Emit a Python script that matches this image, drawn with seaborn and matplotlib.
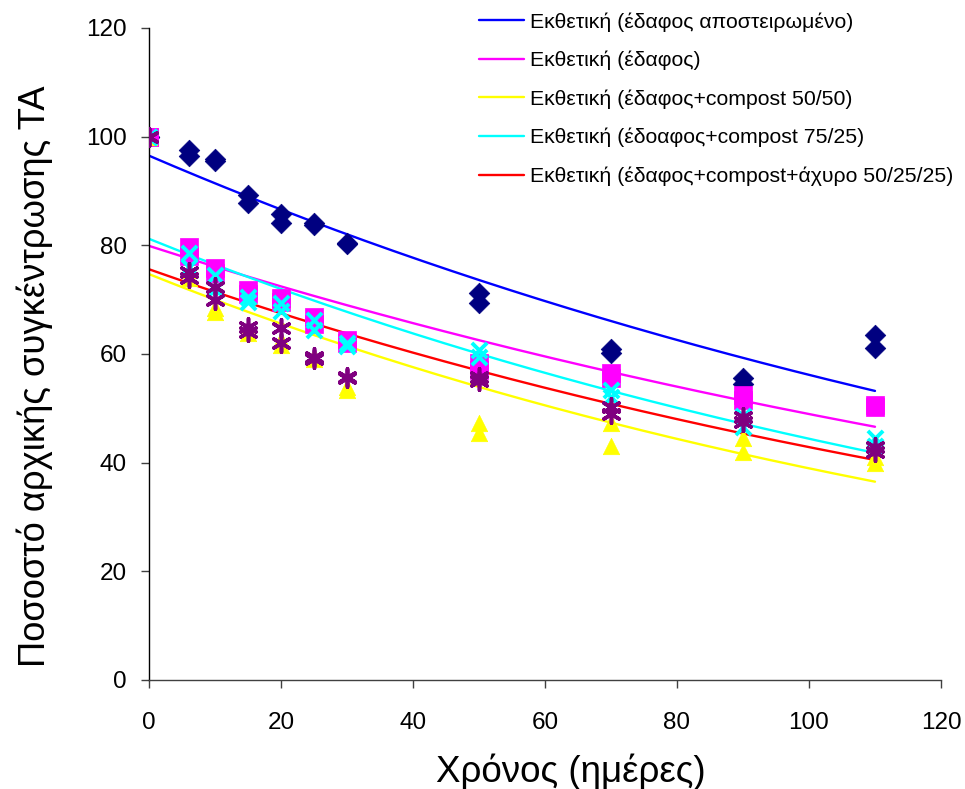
import numpy as np
import pandas as pd
import matplotlib
matplotlib.use("Agg")
import matplotlib.pyplot as plt
import seaborn as sns

# Sampling days (two replicates per day)
days = [0, 6, 10, 15, 20, 25, 30, 50, 70, 90, 110]

# Remaining TA concentration (% of initial), replicate 1 and 2
sterile_r1 = [100, 97.5, 95.9, 89.3, 85.8, 84.1, 80.4, 71.2, 61.0, 55.6, 63.5]
sterile_r2 = [100, 96.4, 95.5, 87.8, 84.1, 83.8, 80.2, 69.4, 60.2, 54.5, 61.1]
soil_r1 = [100, 79.7, 75.8, 71.8, 70.3, 66.8, 62.5, 58.3, 56.5, 52.5, 50.6]
soil_r2 = [100, 78.0, 75.0, 71.0, 69.5, 65.5, 62.0, 57.0, 55.5, 51.5, 50.2]
c5050_r1 = [100, 75.5, 67.7, 63.9, 61.7, 59.0, 53.4, 47.3, 47.3, 44.5, 40.0]
c5050_r2 = [100, 74.0, 68.5, 64.5, 62.5, 59.5, 54.0, 45.5, 43.0, 42.0, 41.0]
c7525_r1 = [100, 78.6, 74.5, 70.5, 69.4, 66.3, 62.0, 60.7, 53.4, 48.5, 44.5]
c7525_r2 = [100, 76.0, 72.0, 69.5, 68.0, 64.5, 61.5, 59.5, 52.0, 46.6, 43.0]
straw_r1 = [100, 75.1, 72.3, 65.0, 64.8, 59.5, 55.6, 55.8, 50.2, 48.4, 42.9]
straw_r2 = [100, 74.0, 70.0, 64.0, 62.0, 59.0, 55.8, 55.0, 49.0, 47.5, 42.0]

# Exponential trendlines y = a * exp(b * x)
trend_a = [96.5, 79.9, 74.7, 81.2, 75.6]
trend_b = [-0.005413, -0.00490, -0.00651, -0.006036, -0.005675]
trend_labels = [
    "Εκθετική (έδαφος αποστειρωμένο)",
    "Εκθετική (έδαφος)",
    "Εκθετική (έδαφος+compost 50/50)",
    "Εκθετική (έδοαφος+compost 75/25)",
    "Εκθετική (έδαφος+compost+άχυρο 50/25/25)",
]
trend_colors = ["#0000FF", "#FF00FF", "#FFFF00", "#00FFFF", "#FF0000"]

series = [
    ("sterile", sterile_r1, sterile_r2, "#000080", "D", 110, 0),
    ("soil", soil_r1, soil_r2, "#FF00FF", "s", 150, 0),
    ("c5050", c5050_r1, c5050_r2, "#FFFF00", "^", 140, 0),
    ("c7525", c7525_r1, c7525_r2, "#00FFFF", "x", 120, 2.8),
    ("straw", straw_r1, straw_r2, "#800080", (6, 2, 0), 160, 2.6),
]

sns.set_theme(style="white")
plt.rcParams["font.family"] = ["Liberation Sans", "DejaVu Sans"]
plt.rcParams["text.color"] = "black"
plt.rcParams["axes.labelcolor"] = "black"
plt.rcParams["xtick.color"] = "black"
plt.rcParams["ytick.color"] = "black"

fig = plt.figure(figsize=(9.65, 7.89), dpi=100)
ax = fig.add_axes([149 / 965, 1 - 680 / 789, 792 / 965, 652 / 789])

# Trendlines
xs = np.linspace(0, 110, 200)
for a, b, lab, col in zip(trend_a, trend_b, trend_labels, trend_colors):
    tdf = pd.DataFrame({"x": xs, "y": a * np.exp(b * xs)})
    sns.lineplot(data=tdf, x="x", y="y", color=col, linewidth=1.7, ax=ax,
                 label=lab, zorder=2)

# Measured points
for name, r1, r2, col, mk, size, lw in series:
    df = pd.DataFrame({"day": days + days, "value": r1 + r2})
    if lw:
        sns.scatterplot(data=df, x="day", y="value", marker=mk, s=size,
                        color=col, linewidth=lw, ax=ax, zorder=3, legend=False)
    else:
        sns.scatterplot(data=df, x="day", y="value", marker=mk, s=size,
                        color=col, edgecolor=col, linewidth=0.5, ax=ax,
                        zorder=3, legend=False)

ax.set_xlim(0, 120)
ax.set_ylim(0, 120)
ax.set_xticks(range(0, 121, 20))
ax.set_yticks(range(0, 121, 20))
ax.tick_params(axis="both", which="major", labelsize=17.5, length=6,
               width=1, color="#404040", direction="out",
               bottom=True, left=True, labelcolor="black")
ax.tick_params(axis="x", pad=17)
ax.tick_params(axis="y", pad=10)
for side in ["top", "right"]:
    ax.spines[side].set_visible(False)
ax.spines["left"].set_color("#000000")
ax.spines["bottom"].set_color("#404040")
for side in ["left", "bottom"]:
    ax.spines[side].set_linewidth(1)

ax.set_xlabel("Χρόνος (ημέρες)", fontsize=26.5, labelpad=14, color="black")
ax.xaxis.label.set_x((571 - 149) / 792)
ax.set_ylabel("Ποσοστό αρχικής συγκέντρωσης ΤΑ", fontsize=26.2,
              labelpad=24, color="black")
ax.yaxis.label.set_y((680 - 376) / 652)

leg = ax.legend(loc="upper left", bbox_to_anchor=(479 / 965, 1 - 12 / 789),
                bbox_transform=fig.transFigure, frameon=False, fontsize=15.3,
                handlelength=2.1, handletextpad=0.28, labelspacing=0.9,
                borderaxespad=0, borderpad=0)
for t in leg.get_texts():
    t.set_color("black")

fig.savefig("out.png", dpi=100)
